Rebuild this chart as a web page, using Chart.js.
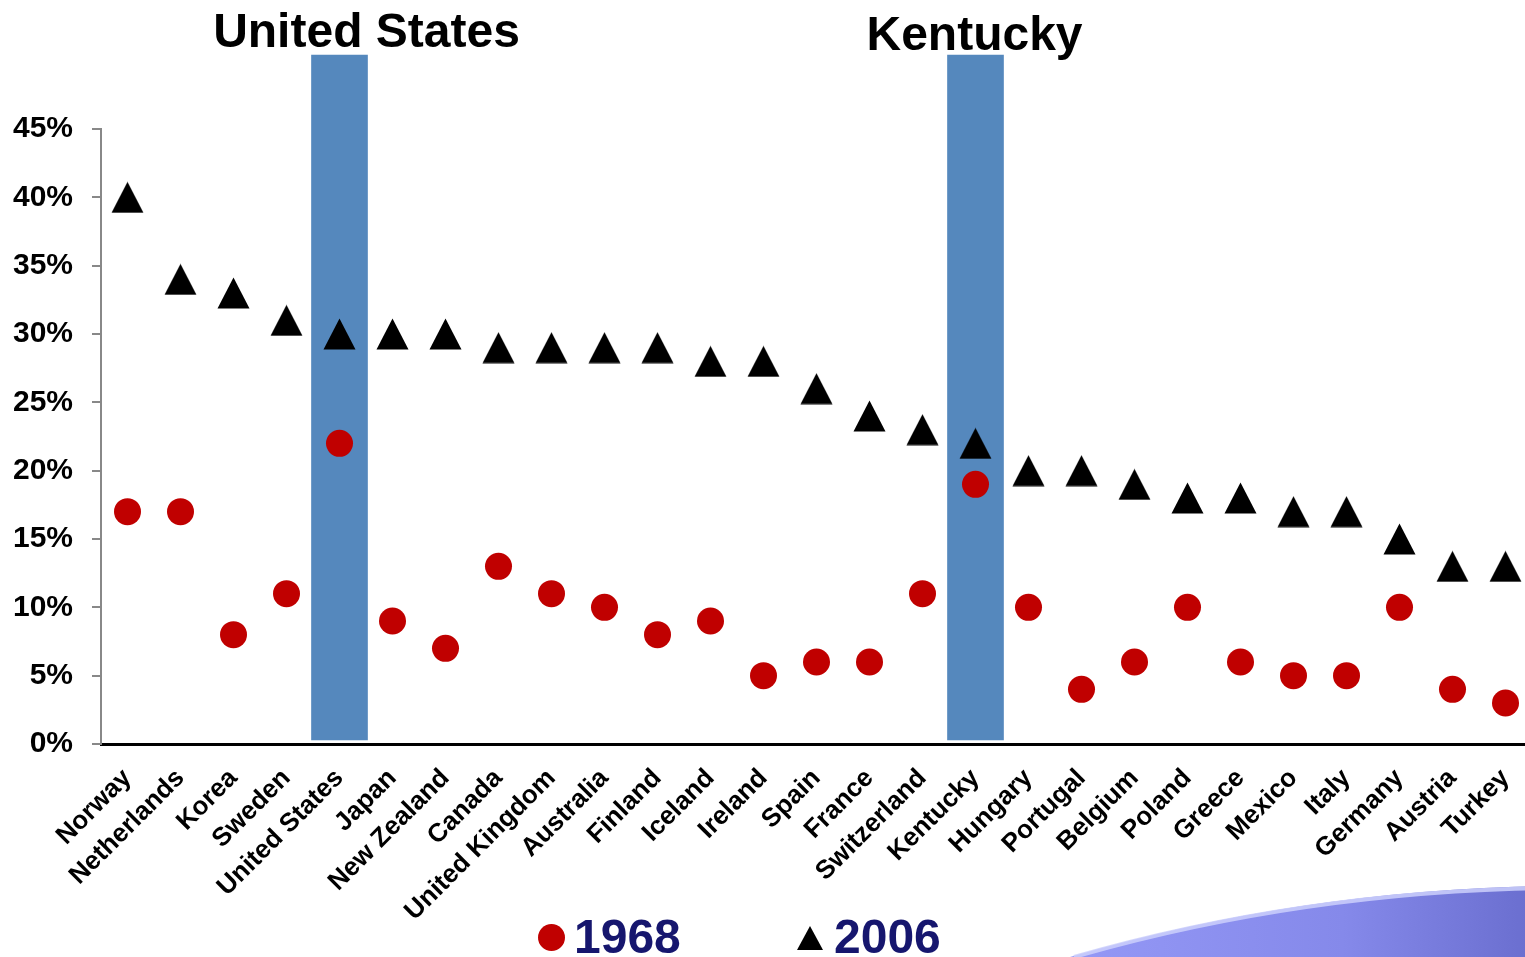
<!DOCTYPE html>
<html>
<head>
<meta charset="utf-8">
<title>1968 vs 2006</title>
<script src="https://cdn.jsdelivr.net/npm/chart.js@4.4.1/dist/chart.umd.min.js"></script>
<style>
  html, body { margin: 0; padding: 0; background: #fff; overflow: hidden; }
  #wrap { position: relative; width: 1549px; height: 957px; }
  #legend { position: absolute; left: 0; top: 0; width: 100%; height: 100%; pointer-events: none;
            font-family: "Liberation Sans", Arial, sans-serif; font-weight: bold; color: #16166e; }
  .dot { position: absolute; left: 538px; top: 924px; width: 27px; height: 27px; border-radius: 50%; background: #c00000; }
  .tri { position: absolute; left: 797px; top: 926px; width: 0; height: 0;
         border-left: 13px solid transparent; border-right: 13px solid transparent; border-bottom: 24px solid #000; }
  .lbl { position: absolute; top: 907px; font-size: 48px; line-height: 60px; }
</style>
</head>
<body>
<div id="wrap">
  <canvas id="chart" width="1549" height="957"></canvas>
  <div id="legend">
    <span class="dot"></span><span class="lbl" style="left:574px">1968</span>
    <span class="tri"></span><span class="lbl" style="left:834px">2006</span>
  </div>
</div>
<script>
// data (share in %)
const categories = ['Norway', 'Netherlands', 'Korea', 'Sweden', 'United States', 'Japan', 'New Zealand',
  'Canada', 'United Kingdom', 'Australia', 'Finland', 'Iceland', 'Ireland', 'Spain', 'France',
  'Switzerland', 'Kentucky', 'Hungary', 'Portugal', 'Belgium', 'Poland', 'Greece', 'Mexico',
  'Italy', 'Germany', 'Austria', 'Turkey'];
const values1968 = [17, 17, 8, 11, 22, 9, 7, 13, 11, 10, 8, 9, 5, 6, 6, 11, 19, 10, 4, 6, 10, 6, 5, 5, 10, 4, 3];
const values2006 = [40, 34, 33, 31, 30, 30, 30, 29, 29, 29, 29, 28, 28, 26, 24, 23, 22, 20, 20, 19, 18, 18, 17, 17, 15, 13, 13];
const highlighted = ['United States', 'Kentucky'];
const highlightSpan = [0.3, 50.4];
const yTicks = [0, 5, 10, 15, 20, 25, 30, 35, 40, 45];

const FONT = '"Liberation Sans", Arial, sans-serif';

// solid triangle marker, a bit taller than the built-in one
const triMarker = document.createElement('canvas');
triMarker.width = 33;
triMarker.height = 32;
(function () {
  const g = triMarker.getContext('2d');
  g.fillStyle = '#000';
  g.beginPath();
  g.moveTo(0.5, 31.5);
  g.lineTo(16.5, 0.5);
  g.lineTo(32.5, 31.5);
  g.closePath();
  g.fill();
})();

// blue swoosh in the bottom right corner
const swoosh = {
  id: 'swoosh',
  beforeDraw(chart) {
    const ctx = chart.ctx;
    const h = chart.height, r = 1545;
    ctx.save();
    const grad = ctx.createLinearGradient(1070, 0, 1525, 0);
    grad.addColorStop(0, '#9498f6');
    grad.addColorStop(0.6, '#8589ea');
    grad.addColorStop(1, '#6b6fd0');
    ctx.fillStyle = grad;
    ctx.beginPath();
    ctx.moveTo(1070, h);
    ctx.quadraticCurveTo(1300, 890, r, 886);
    ctx.lineTo(r, h);
    ctx.closePath();
    ctx.fill();
    ctx.strokeStyle = 'rgba(205,208,252,0.85)';
    ctx.lineWidth = 4;
    ctx.beginPath();
    ctx.moveTo(1074, h);
    ctx.quadraticCurveTo(1300, 892, r, 888);
    ctx.stroke();
    ctx.restore();
  }
};

// headings above the two highlighted columns
const headings = {
  id: 'headings',
  afterDraw(chart) {
    const ctx = chart.ctx;
    const x = chart.scales.x;
    ctx.save();
    ctx.fillStyle = '#000';
    ctx.font = 'bold 48px ' + FONT;
    ctx.textAlign = 'center';
    ctx.textBaseline = 'alphabetic';
    ctx.fillText('United States', x.getPixelForValue(categories.indexOf('United States')) + 27, 47);
    ctx.fillText('Kentucky', x.getPixelForValue(categories.indexOf('Kentucky')) - 1, 50);
    ctx.restore();
  }
};

new Chart(document.getElementById('chart'), {
  data: {
    labels: categories,
    datasets: [{
      type: 'bar',
      label: 'highlight',
      data: categories.map(c => highlighted.includes(c) ? highlightSpan : null),
      backgroundColor: '#5588bd',
      barThickness: 56,
      clip: false,
      order: 3
    }, {
      type: 'line',
      label: '1968',
      data: values1968,
      showLine: false,
      pointStyle: 'circle',
      pointRadius: 13.5,
      pointBackgroundColor: '#c00000',
      pointBorderWidth: 0,
      order: 2
    }, {
      type: 'line',
      label: '2006',
      data: values2006,
      showLine: false,
      pointStyle: triMarker,
      pointRadius: 16,
      order: 1
    }]
  },
  options: {
    responsive: false,
    animation: false,
    events: [],
    layout: { padding: { top: 129, left: 0, right: 0, bottom: 0 } },
    plugins: { legend: { display: false }, tooltip: { enabled: false } },
    scales: {
      x: {
        type: 'category',
        offset: true,
        grid: { display: false, drawTicks: false },
        border: { display: true, color: '#000', width: 3 },
        ticks: {
          autoSkip: false,
          maxRotation: 45,
          minRotation: 45,
          padding: 19,
          color: '#000',
          font: { family: FONT, size: 26, weight: 'bold' }
        },
        afterFit: s => { s.height = 213; }
      },
      y: {
        min: 0,
        max: 45,
        afterBuildTicks: s => { s.ticks = yTicks.map(v => ({ value: v })); },
        grid: { drawOnChartArea: false, drawTicks: true, tickLength: 9, color: '#888', lineWidth: 2 },
        border: { display: true, color: '#888', width: 2 },
        ticks: {
          padding: 19,
          color: '#000',
          font: { family: FONT, size: 30, weight: 'bold' },
          callback: v => v + '%'
        },
        afterFit: s => { s.width = 101; }
      }
    }
  },
  plugins: [swoosh, headings]
});
</script>
</body>
</html>
